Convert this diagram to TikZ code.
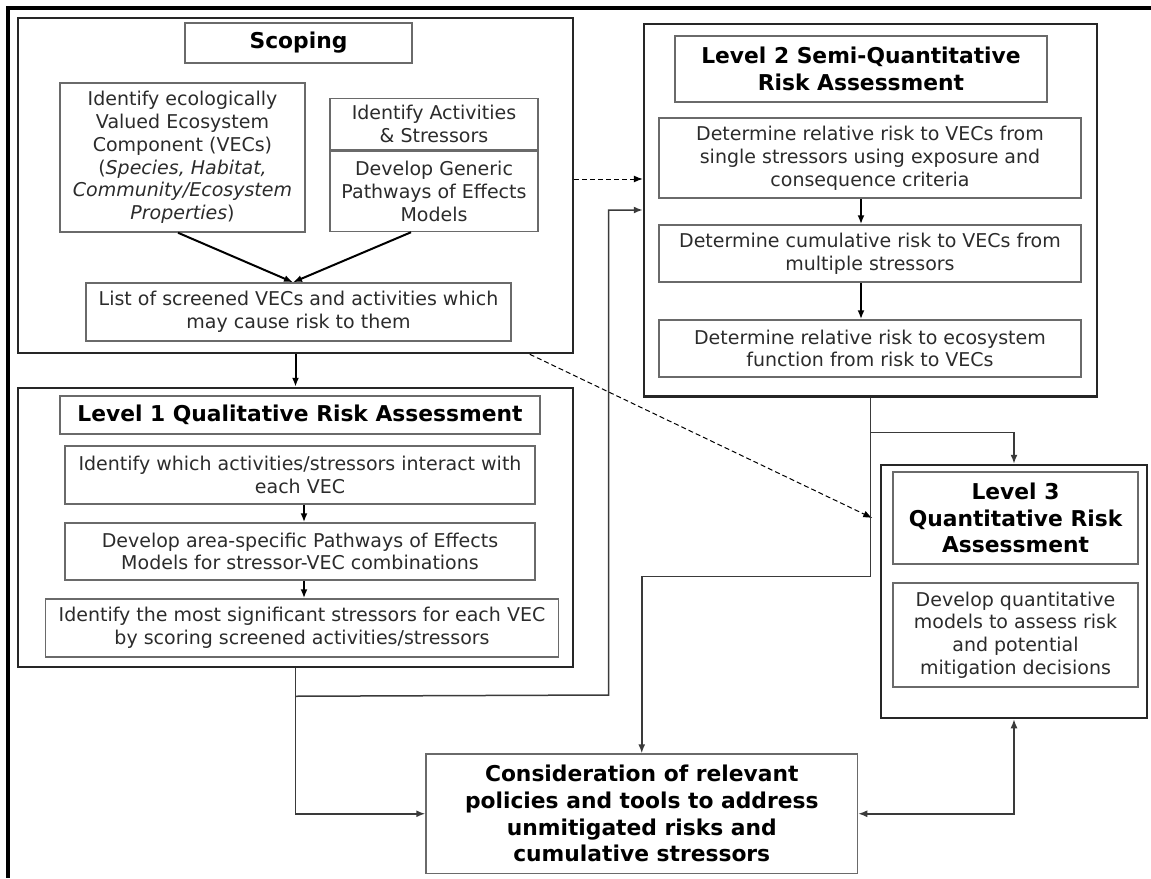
\documentclass[tikz,border=0pt]{standalone}
\usepackage{fontspec}
\setmainfont{DejaVu Sans}
\usetikzlibrary{arrows.meta, calc}
\definecolor{cline}{HTML}{3A3A3A}
\definecolor{cbox}{HTML}{6A6A6A}
\definecolor{ctext}{HTML}{2B2B2B}
\tikzset{
  every picture/.style={line width=0.75pt},
  sz/.style 2 args={minimum width=#1*0.5pt, minimum height=#2*0.5pt},
  box/.style={draw=cbox, align=center, inner sep=0pt, text=ctext, font=\fontsize{9.5}{11.4}\selectfont},
  head/.style={box, text=black, font=\fontsize{10.9}{13.3}\selectfont\bfseries},
  group/.style={draw=black!85, line width=1.25pt, inner sep=0pt},
  arrow/.style={-{Latex[length=4.5pt,width=3.5pt]}, draw=cline},
  step arrow/.style={arrow, draw=black, line width=1pt},
  twoway/.style={{Latex[length=4.5pt,width=3.5pt]}-{Latex[length=4.5pt,width=3.5pt]}, draw=cline},
  dasharrow/.style={arrow, draw=black, line width=0.5pt, dash pattern=on 2.5pt off 1.5pt},
}

\begin{document}
\begin{tikzpicture}[x=0.5pt, y=-0.5pt]
  \useasboundingbox (0,0) rectangle (1151,878);
  \draw[line width=1.6pt] (1151,8) -- (8,8) -- (8,878);
  % scoping
  \node[group, sz={555}{335}] (scp) at (295.5,185.5) {};
  \node[head, sz={227}{40}] (scpT) at (298.5,43) {Scoping};
  \node[box, sz={245}{149}] (vec) at (182.5,157.5) {Identify ecologically\\Valued Ecosystem\\Component (VECs)\\(\textit{Species, Habitat,}\\\textit{Community/Ecosystem}\\\textit{Properties})};
  \node[box, sz={208}{51}] (act) at (434,124) {Identify Activities\\\& Stressors};
  \node[box, sz={208}{80.5}, anchor=north] (gen) at (act.south) {Develop Generic\\Pathways of Effects\\Models};
  \node[box, sz={425}{58}] (lst) at (298.5,312) {List of screened VECs and activities which\\may cause risk to them};
  \draw[step arrow] ([xshift=-2.25pt]vec.south) -- ([xshift=-2.75pt]lst.north);
  \draw[step arrow] ([xshift=-11.5pt]gen.south) -- ([xshift=-2.75pt]lst.north);
  % level 1
  \node[group, sz={555}{279}] (lone) at (295.5,527.5) {};
  \node[head, sz={480}{38}] (loneT) at (300,415) {Level 1 Qualitative Risk Assessment};
  \node[box, sz={470}{58}] (lonea) at (300,475) {Identify which activities/stressors interact with\\each VEC};
  \node[box, sz={470}{57}] (loneb) at (300,551.5) {Develop area-specific Pathways of Effects\\Models for stressor-VEC combinations};
  \node[box, sz={513}{58}] (lonec) at (302,628) {Identify the most significant stressors for each VEC\\by scoring screened activities/stressors};
  \draw[step arrow] ([xshift=2pt]lonea.south) -- ([xshift=2pt]loneb.north);
  \draw[step arrow] ([xshift=2pt]loneb.south) -- ([xshift=2pt]loneb.south |- lonec.north);
  % level 2
  \node[group, sz={453}{372.5}] (ltwo) at (870.5,210) {};
  \node[head, sz={372}{66}] (ltwoT) at (861,69) {Level 2 Semi-Quantitative\\Risk Assessment};
  \node[box, sz={422}{80}] (ltwoa) at (870,158) {Determine relative risk to VECs from\\single stressors using exposure and\\consequence criteria};
  \node[box, sz={422}{57}] (ltwob) at (870,253.5) {Determine cumulative risk to VECs from\\multiple stressors};
  \node[box, sz={422}{57}] (ltwoc) at (870,348.5) {Determine relative risk to ecosystem\\function from risk to VECs};
  \draw[step arrow] (ltwoa.south -| ltwoT.center) -- (ltwob.north -| ltwoT.center);
  \draw[step arrow] (ltwob.south -| ltwoT.center) -- (ltwoc.north -| ltwoT.center);
  % level 3
  \node[group, sz={266}{253}] (lthree) at (1014,591.5) {};
  \node[head, sz={245}{92}] (lthreeT) at (1015.5,518) {Level 3\\Quantitative Risk\\Assessment};
  \node[box, sz={245}{104}] (lthreeb) at (1015.5,635) {Develop quantitative\\models to assess risk\\and potential\\mitigation decisions};
  % policies
  \node[head, sz={431.5}{119.5}] (cons) at (641.75,813.75) {Consideration of relevant\\policies and tools to address\\unmitigated risks and\\cumulative stressors};
  % connectors
  \draw[step arrow] (scp.south) -- (lone.north);
  \draw[dasharrow] ([yshift=3.25pt]scp.east) -- ([yshift=3.25pt]scp.east -| ltwo.west);
  \coordinate (dtip) at ([xshift=-10pt]lthreeT.west);
  \draw[dasharrow] ([xshift=-22.25pt]scp.south east) -- (dtip);
  \draw[arrow] (lone.south) |- (cons.west);
  \coordinate (fb) at ($(lone.south)+(0,28)$);
  \coordinate (fbup) at (608.5,695);
  \draw[arrow] (fb) -- (fbup) |- (ltwo.west);
  \coordinate (ltwoj) at ($(ltwo.south)+(0,35)$);
  \draw[arrow] (ltwo.south) -- (ltwoj) -| (lthree.north);
  \draw[arrow] (ltwoj) -- ++(0,144) -| (cons.north);
  \draw[twoway] (cons.east) -| (lthree.south);
\end{tikzpicture}
\end{document}
